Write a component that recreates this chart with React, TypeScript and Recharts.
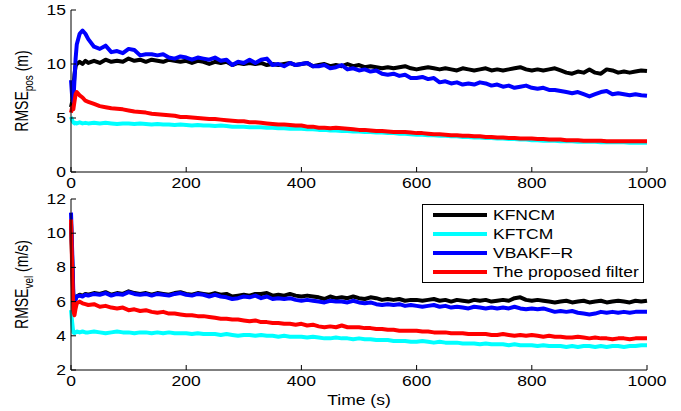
import React from "react";
import { LineChart, Line, XAxis, YAxis, Legend, Label } from "recharts";

const time = [
  0, 2, 4, 6, 8, 10, 15, 20, 25,
  30, 40, 50, 60, 70, 80, 90, 100, 110, 120,
  130, 140, 150, 160, 170, 180, 190, 200, 210, 220,
  230, 240, 250, 260, 270, 280, 290, 300, 310, 320,
  330, 340, 350, 360, 370, 380, 390, 400, 410, 420,
  430, 440, 450, 460, 470, 480, 490, 500, 510, 520,
  530, 540, 550, 560, 570, 580, 590, 600, 610, 620,
  630, 640, 650, 660, 670, 680, 690, 700, 710, 720,
  730, 740, 750, 760, 770, 780, 790, 800, 810, 820,
  830, 840, 850, 860, 870, 880, 890, 900, 910, 920,
  930, 940, 950, 960, 970, 980, 990, 1000,
];

// position RMSE (m)
const posKFNCM = [
  6.0, 6.5, 7.5, 9.0, 9.8, 10.0, 10.2, 10.0, 10.3,
  10.1, 10.3, 10.1, 10.4, 10.2, 10.3, 10.2, 10.5, 10.3, 10.4,
  10.2, 10.4, 10.3, 10.2, 10.4, 10.3, 10.2, 10.3, 10.1, 10.3,
  10.2, 10.0, 10.2, 10.1, 10.2, 9.9, 10.1, 10.0, 10.1, 10.0,
  10.1, 9.9, 10.0, 9.9, 10.0, 10.1, 9.9, 10.0, 10.1, 9.8,
  9.9, 10.0, 9.8, 9.9, 9.8, 10.0, 9.8, 9.9, 9.7, 9.8,
  9.7, 9.6, 9.7, 9.6, 9.7, 9.8, 9.6, 9.5, 9.6, 9.7,
  9.6, 9.5, 9.6, 9.5, 9.4, 9.6, 9.5, 9.4, 9.5, 9.6,
  9.4, 9.5, 9.4, 9.5, 9.6, 9.7, 9.5, 9.4, 9.5, 9.4,
  9.5, 9.6, 9.4, 9.2, 9.1, 9.3, 9.2, 9.5, 9.2, 9.1,
  9.5, 9.4, 9.2, 9.3, 9.2, 9.3, 9.4, 9.35,
];
const posKFTCM = [
  5.1, 4.8, 4.6, 4.5, 4.55, 4.5, 4.6, 4.5, 4.55,
  4.5, 4.55, 4.5, 4.55, 4.5, 4.45, 4.5, 4.5, 4.45, 4.5,
  4.45, 4.4, 4.45, 4.4, 4.4, 4.35, 4.4, 4.35, 4.3, 4.35,
  4.3, 4.3, 4.25, 4.3, 4.25, 4.2, 4.2, 4.2, 4.15, 4.15,
  4.15, 4.1, 4.1, 4.05, 4.05, 4.0, 4.0, 4.0, 3.95, 3.95,
  3.9, 3.9, 3.85, 3.85, 3.8, 3.8, 3.75, 3.75, 3.7, 3.7,
  3.65, 3.65, 3.6, 3.6, 3.55, 3.55, 3.5, 3.45, 3.45, 3.4,
  3.4, 3.35, 3.35, 3.3, 3.3, 3.25, 3.25, 3.2, 3.2, 3.15,
  3.15, 3.1, 3.1, 3.05, 3.05, 3.0, 3.0, 2.95, 2.95, 2.9,
  2.9, 2.9, 2.85, 2.85, 2.85, 2.8, 2.8, 2.8, 2.8, 2.75,
  2.75, 2.75, 2.75, 2.75, 2.7, 2.7, 2.7, 2.7,
];
const posVBAKF = [
  8.5, 7.0, 6.5, 8.5, 10.5, 11.8, 12.8, 13.1, 12.8,
  12.3, 11.6, 11.4, 11.7, 11.1, 11.2, 11.0, 11.4, 11.3, 10.8,
  10.9, 10.9, 10.8, 10.9, 10.6, 10.5, 10.7, 10.6, 10.4, 10.6,
  10.5, 10.4, 10.6, 10.3, 10.4, 9.9, 10.2, 10.1, 10.4, 10.1,
  10.4, 10.5, 9.9, 10.0, 9.8, 10.1, 9.9, 10.0, 10.1, 9.8,
  9.8, 9.9, 9.6, 9.7, 9.9, 9.5, 9.6, 9.4, 9.5, 9.3,
  9.4, 9.1, 9.0, 9.1, 8.9, 9.0, 8.7, 8.7, 8.8, 8.6,
  8.7, 8.3, 8.4, 8.2, 8.3, 8.1, 8.2, 8.1, 8.3, 8.2,
  8.0, 8.1, 7.9, 8.0, 7.8, 7.9, 8.0, 7.8, 7.7, 7.8,
  7.6, 7.6, 7.5, 7.4, 7.3, 7.4, 7.2, 7.0, 7.2, 7.4,
  7.5, 7.2, 7.3, 7.2, 7.1, 7.2, 7.1, 7.05,
];
const posProposed = [
  5.5, 6.0, 5.8, 6.5, 7.2, 7.4, 7.1, 6.9, 6.6,
  6.5, 6.3, 6.1, 6.0, 5.9, 5.85, 5.8, 5.7, 5.6, 5.55,
  5.5, 5.4, 5.35, 5.3, 5.25, 5.2, 5.1, 5.1, 5.05, 5.0,
  4.95, 4.9, 4.9, 4.85, 4.8, 4.75, 4.7, 4.7, 4.6, 4.6,
  4.55, 4.5, 4.45, 4.4, 4.4, 4.35, 4.3, 4.3, 4.2, 4.2,
  4.1, 4.1, 4.05, 4.1, 4.05, 4.0, 3.95, 3.9, 3.9, 3.85,
  3.8, 3.8, 3.75, 3.7, 3.7, 3.7, 3.65, 3.6, 3.6, 3.55,
  3.5, 3.5, 3.45, 3.4, 3.4, 3.35, 3.35, 3.3, 3.3, 3.25,
  3.25, 3.2, 3.2, 3.15, 3.15, 3.1, 3.1, 3.1, 3.05, 3.05,
  3.0, 3.0, 3.0, 2.95, 2.95, 2.95, 2.9, 2.9, 2.9, 2.9,
  2.85, 2.85, 2.85, 2.85, 2.85, 2.85, 2.85, 2.85,
];

// velocity RMSE (m/s)
const velKFNCM = [
  10.6, 8.5, 6.2, 6.0, 6.2, 6.3, 6.4, 6.35, 6.45,
  6.4, 6.5, 6.45, 6.55, 6.4, 6.5, 6.45, 6.6, 6.5, 6.45,
  6.5, 6.4, 6.5, 6.45, 6.4, 6.5, 6.55, 6.45, 6.4, 6.5,
  6.45, 6.4, 6.5, 6.4, 6.45, 6.3, 6.35, 6.4, 6.35, 6.45,
  6.45, 6.5, 6.35, 6.4, 6.35, 6.45, 6.35, 6.3, 6.35, 6.3,
  6.25, 6.15, 6.3, 6.2, 6.25, 6.2, 6.3, 6.2, 6.15, 6.25,
  6.2, 6.1, 6.15, 6.1, 6.15, 6.05, 6.1, 6.1, 6.05, 6.1,
  6.15, 6.05, 6.1, 6.0, 6.1, 6.05, 6.0, 6.1, 6.05, 6.1,
  6.0, 6.05, 6.1, 6.05, 6.2, 6.25, 6.1, 6.05, 6.1, 6.05,
  6.0, 5.95, 6.0, 6.05, 5.95, 6.0, 6.05, 5.95, 6.0, 6.05,
  5.95, 6.0, 6.05, 6.0, 5.95, 6.05, 6.0, 6.05,
];
const velKFTCM = [
  5.5, 4.8, 4.2, 4.15, 4.2, 4.25, 4.2, 4.25, 4.2,
  4.2, 4.25, 4.2, 4.15, 4.2, 4.25, 4.2, 4.2, 4.15, 4.2,
  4.2, 4.15, 4.2, 4.15, 4.2, 4.15, 4.15, 4.15, 4.1, 4.15,
  4.1, 4.1, 4.1, 4.05, 4.1, 4.05, 4.0, 4.05, 4.05, 4.0,
  4.05, 4.0, 4.0, 3.95, 4.0, 3.95, 3.95, 3.95, 3.9, 3.95,
  3.9, 3.85, 3.85, 3.9, 3.85, 3.85, 3.8, 3.85, 3.8, 3.8,
  3.75, 3.75, 3.75, 3.7, 3.7, 3.7, 3.65, 3.65, 3.7, 3.65,
  3.6, 3.65, 3.6, 3.6, 3.6, 3.55, 3.55, 3.55, 3.5, 3.55,
  3.5, 3.5, 3.5, 3.45, 3.5, 3.45, 3.45, 3.45, 3.4, 3.45,
  3.4, 3.4, 3.4, 3.35, 3.4, 3.35, 3.4, 3.4, 3.35, 3.4,
  3.35, 3.4, 3.4, 3.35, 3.4, 3.4, 3.45, 3.45,
];
const velVBAKF = [
  11.2, 9.0, 6.5, 6.0, 6.1, 6.3, 6.35, 6.3, 6.4,
  6.35, 6.45, 6.4, 6.5, 6.35, 6.45, 6.4, 6.55, 6.45, 6.4,
  6.45, 6.35, 6.45, 6.4, 6.35, 6.45, 6.5, 6.4, 6.35, 6.45,
  6.4, 6.3, 6.4, 6.3, 6.25, 6.15, 6.2, 6.3, 6.25, 6.35,
  6.2, 6.3, 6.15, 6.2, 6.15, 6.2, 6.1, 6.05, 6.1, 6.05,
  6.0, 5.95, 6.05, 6.0, 6.0, 5.95, 6.05, 5.95, 5.9, 5.95,
  5.85, 5.8, 5.85, 5.8, 5.85, 5.75, 5.8, 5.75, 5.7, 5.75,
  5.8, 5.7, 5.75, 5.65, 5.7, 5.65, 5.6, 5.7, 5.65, 5.6,
  5.65, 5.6, 5.65, 5.6, 5.7, 5.6, 5.55, 5.6, 5.55, 5.6,
  5.5, 5.4, 5.45, 5.4, 5.45, 5.35, 5.3, 5.25, 5.3, 5.4,
  5.35, 5.4, 5.35, 5.4, 5.35, 5.4, 5.4, 5.4,
];
const velProposed = [
  10.8, 8.0, 5.5, 5.2, 5.6, 5.9, 6.0, 5.9, 5.85,
  5.8, 5.85, 5.7, 5.75, 5.65, 5.6, 5.65, 5.5, 5.55, 5.45,
  5.5, 5.4, 5.35, 5.4, 5.3, 5.3, 5.25, 5.2, 5.2, 5.15,
  5.15, 5.1, 5.05, 5.0, 5.0, 4.95, 4.95, 4.9, 4.85, 4.9,
  4.8, 4.8, 4.75, 4.75, 4.7, 4.7, 4.65, 4.7, 4.6, 4.65,
  4.55, 4.5, 4.55, 4.5, 4.6, 4.5, 4.5, 4.5, 4.45, 4.45,
  4.4, 4.4, 4.35, 4.35, 4.3, 4.3, 4.3, 4.3, 4.25, 4.25,
  4.2, 4.2, 4.2, 4.15, 4.15, 4.15, 4.1, 4.1, 4.1, 4.1,
  4.05, 4.05, 4.1, 4.05, 4.0, 4.05, 4.0, 4.05, 4.0, 3.95,
  4.0, 3.95, 3.95, 3.9, 3.9, 3.95, 3.9, 3.85, 3.9, 3.85,
  3.85, 3.8, 3.85, 3.85, 3.8, 3.85, 3.85, 3.85,
];

const xTicks = [0, 200, 400, 600, 800, 1000];
const posTicks = [0, 5, 10, 15];
const velTicks = [2, 4, 6, 8, 10, 12];

const series = [
  { key: "kfncm", name: "KFNCM", color: "#000000" },
  { key: "kftcm", name: "KFTCM", color: "#00ffff" },
  { key: "vbakf", name: "VBAKF\u2212R", color: "#0000ff" },
  { key: "prop", name: "The proposed filter", color: "#ff0000" },
];

const posRows = time.map((t, i) => ({
  t,
  kfncm: posKFNCM[i],
  kftcm: posKFTCM[i],
  vbakf: posVBAKF[i],
  prop: posProposed[i],
}));

const velRows = time.map((t, i) => ({
  t,
  kfncm: velKFNCM[i],
  kftcm: velKFTCM[i],
  vbakf: velVBAKF[i],
  prop: velProposed[i],
}));

const FONT = "'Liberation Sans', Arial, sans-serif";
const SX = 1.25; // the original figure is stretched sideways

const XTick = ({ x, y, payload }: any) => (
  <text
    transform={`translate(${x},${y + 16}) scale(${SX},1)`}
    textAnchor="middle"
    fontSize={14}
    fontFamily={FONT}
    fill="#000"
  >
    {payload.value}
  </text>
);

const YTick = ({ x, y, payload }: any) => (
  <text
    transform={`translate(${x - 5},${y + 5}) scale(${SX},1)`}
    textAnchor="end"
    fontSize={14}
    fontFamily={FONT}
    fill="#000"
  >
    {payload.value}
  </text>
);

const yTitle = (sub: string, unit: string) => (props: any) => {
  const vb = props.viewBox;
  const cy = vb.y + vb.height / 2;
  return (
    <text
      transform={`translate(28,${cy}) scale(${SX},1) rotate(-90)`}
      textAnchor="middle"
      fontSize={14}
      fontFamily={FONT}
      fill="#000"
    >
      RMSE
      <tspan fontSize={10} dy={4}>
        {sub}
      </tspan>
      <tspan dy={-4}>{` (${unit})`}</tspan>
    </text>
  );
};

const timeTitle = (props: any) => {
  const vb = props.viewBox;
  return (
    <text
      transform={`translate(${vb.x + vb.width / 2},${vb.y + 35}) scale(${SX},1)`}
      textAnchor="middle"
      fontSize={14}
      fontFamily={FONT}
      fill="#000"
    >
      Time (s)
    </text>
  );
};

const order = series.map((s) => s.name);

const LegendBox = ({ payload }: any) => {
  const items = [...(payload || [])].sort((a: any, b: any) => order.indexOf(a.value) - order.indexOf(b.value));
  return (
    <div style={{ border: "1px solid #000", background: "#fff", width: 220, height: 77 }}>
      <svg width={220} height={77} style={{ display: "block" }}>
        {items.map((p: any, i: number) => (
          <g key={i}>
            <line x1={10} x2={64} y1={10 + 19 * i} y2={10 + 19 * i} stroke={p.color} strokeWidth={4} />
            <text
              transform={`translate(70,${15 + 19 * i}) scale(${SX},1)`}
              fontSize={14}
              fontFamily={FONT}
              fill="#000"
            >
              {p.value}
            </text>
          </g>
        ))}
      </svg>
    </div>
  );
};

export default function App() {
  const lines = series.map((s) => (
    <Line
      key={s.key}
      type="linear"
      dataKey={s.key}
      name={s.name}
      stroke={s.color}
      strokeWidth={4}
      strokeLinejoin="round"
      dot={false}
      isAnimationActive={false}
    />
  ));

  return (
    <div style={{ position: "absolute", left: 0, top: 0, width: 681, height: 411, background: "#fff" }}>
      <div style={{ position: "absolute", left: 0, top: 0 }}>
        <LineChart width={681} height={200} data={posRows} margin={{ top: 10, right: 34, left: 0, bottom: 0 }}>
          <XAxis
            dataKey="t"
            type="number"
            domain={[0, 1000]}
            ticks={xTicks}
            height={28}
            tickSize={-5}
            tickMargin={5}
            tick={<XTick />}
            stroke="#000"
          />
          <XAxis
            xAxisId="top"
            orientation="top"
            dataKey="t"
            type="number"
            domain={[0, 1000]}
            ticks={xTicks}
            height={0}
            tickSize={-5}
            tick={false}
            stroke="#000"
          />
          <YAxis
            type="number"
            domain={[0, 15]}
            ticks={posTicks}
            width={71}
            tickSize={-5}
            tickMargin={5}
            tick={<YTick />}
            stroke="#000"
          >
            <Label content={yTitle("pos", "m")} />
          </YAxis>
          <YAxis
            yAxisId="r"
            orientation="right"
            type="number"
            domain={[0, 15]}
            ticks={posTicks}
            width={0}
            tickSize={-5}
            tick={false}
            stroke="#000"
          />
          {lines}
        </LineChart>
      </div>
      <div style={{ position: "absolute", left: 0, top: 190 }}>
        <LineChart width={681} height={221} data={velRows} margin={{ top: 9, right: 34, left: 0, bottom: 0 }}>
          <XAxis
            dataKey="t"
            type="number"
            domain={[0, 1000]}
            ticks={xTicks}
            height={41}
            tickSize={-5}
            tickMargin={5}
            tick={<XTick />}
            stroke="#000"
          >
            <Label content={timeTitle} />
          </XAxis>
          <XAxis
            xAxisId="top"
            orientation="top"
            dataKey="t"
            type="number"
            domain={[0, 1000]}
            ticks={xTicks}
            height={0}
            tickSize={-5}
            tick={false}
            stroke="#000"
          />
          <YAxis
            type="number"
            domain={[2, 12]}
            ticks={velTicks}
            width={71}
            tickSize={-5}
            tickMargin={5}
            tick={<YTick />}
            stroke="#000"
          >
            <Label content={yTitle("vel", "m/s")} />
          </YAxis>
          <YAxis
            yAxisId="r"
            orientation="right"
            type="number"
            domain={[2, 12]}
            ticks={velTicks}
            width={0}
            tickSize={-5}
            tick={false}
            stroke="#000"
          />
          <Legend
            layout="vertical"
            align="center"
            verticalAlign="middle"
            content={<LegendBox />}
            wrapperStyle={{ position: "absolute", left: 422, top: 14, width: 222, height: 79 }}
          />
          {lines}
        </LineChart>
      </div>
    </div>
  );
}
